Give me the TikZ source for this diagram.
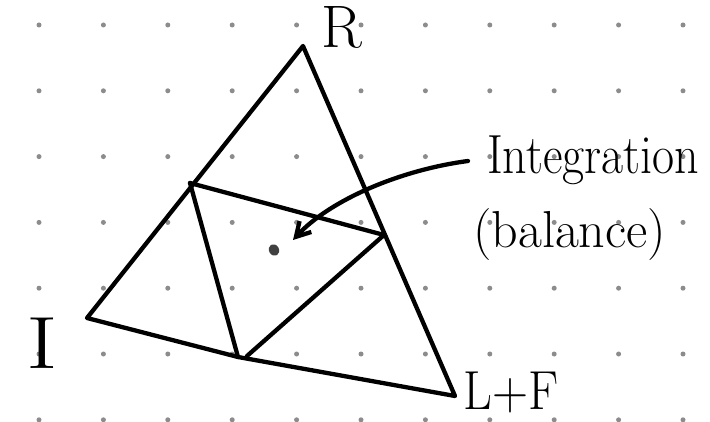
\documentclass[tikz,border=0pt]{standalone}
\usetikzlibrary{arrows.meta,shapes.geometric}
\begin{document}
\begin{tikzpicture}[x=1pt,y=-1pt,
  pen/.style={line width=4.3pt,line cap=round,line join=round,black},
  griddot/.style={fill=black!45,draw=none},
  lbl/.style={inner sep=0pt,text=black}]
\useasboundingbox[fill=white] (0,0) rectangle (710,422);
% dot grid
\foreach \i in {0,...,10}{
  \foreach \j in {0,...,6}{
    \fill[griddot] ({39+64.4*\i},{25+65.8*\j}) circle (2.5pt);
  }
}
% vertices and inner points
\coordinate (R) at (303,46);
\coordinate (I) at (87,318);
\coordinate (LF) at (455,396);
\coordinate (A) at (190,183);
\coordinate (B) at (384,235);
\coordinate (C) at (238,357);
\coordinate (C2) at (247,356);
% triangle
\draw[pen] (I) -- (R) -- (LF) -- (C) -- cycle;
% inner lines
\draw[pen] (A) -- (C);
\draw[pen] (A) -- (B);
\draw[pen] (B) -- (C2);
% balance point
\node[ellipse,fill=black!75,minimum width=10pt,minimum height=12pt,inner sep=0pt,rotate=30] (P) at (274,250) {};
% labels
\node[lbl,font=\fontsize{60}{64}\selectfont] (Rl) at (342,27) {R};
\node[lbl,font=\fontsize{74}{78}\selectfont,xscale=1.3] (Il) at (42,343) {I};
\node[lbl,font=\fontsize{50}{56}\selectfont,yscale=1.1] (LFl) at (511,392) {L+F};
\node[lbl,font=\fontsize{48}{54}\selectfont,anchor=west,yscale=1.15] (Int) at (487,160) {Integration};
\node[lbl,font=\fontsize{52}{58}\selectfont,anchor=west] (Bal) at (473,235) {(balance)};
% arrow
\coordinate (S) at (468,161);
\draw[pen,-{Straight Barb[length=14pt,width=16pt]}] (S) .. controls (400,170) and (330,200) .. (293,240);
\end{tikzpicture}
\end{document}
